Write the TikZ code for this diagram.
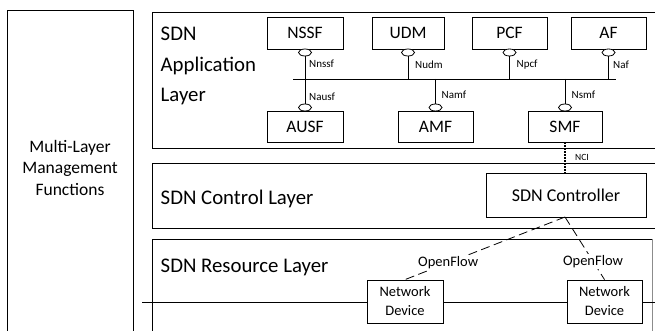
\documentclass[tikz,border=0pt]{standalone}
\usepackage{fontspec}
\setmainfont{Carlito}
\usetikzlibrary{shapes.geometric}
\begin{document}
\begin{tikzpicture}[x=1pt,y=-1pt,
  layer/.style={draw=black,line width=0.8pt},
  fbox/.style={draw=black,line width=0.8pt,fill=white,minimum width=76pt,minimum height=32pt,inner sep=0pt,font=\fontsize{17.5}{20}\selectfont},
  dev/.style={draw=black,line width=0.8pt,fill=white,minimum width=76pt,minimum height=43pt,inner sep=0pt,align=center,font=\fontsize{14.5}{20}\selectfont},
  port/.style={draw=black,line width=0.8pt,fill=white,ellipse,minimum width=13pt,minimum height=7pt,inner sep=0pt},
  iflbl/.style={anchor=west,inner sep=0pt,font=\fontsize{11}{12}\selectfont},
  big/.style={anchor=base west,inner sep=0pt,font=\fontsize{20.8}{24}\selectfont},
  mlf/.style={anchor=base,inner sep=0pt,font=\fontsize{17.5}{21}\selectfont},
  conn/.style={line width=0.8pt},
  ofl/.style={dashed,dash pattern=on 9pt off 4.5pt,line width=0.8pt},
  oftxt/.style={fill=white,inner sep=1.5pt,font=\fontsize{14.5}{16}\selectfont}
]
\useasboundingbox (0,0) rectangle (655,331);
\clip (0,0) rectangle (655,331);
% management box (open at bottom)
\draw[layer] (7,340) -- (7,10) -- (133,10) -- (133,340);
\node[mlf] (m1) at (70,152.7) {Multi-Layer};
\node[mlf] (m2) at (70,173.5) {Management};
\node[mlf] (m3) at (70,195) {Functions};
% layers
\draw[layer] (662,12) -- (152,12) -- (152,148) -- (662,148);
\draw[layer] (662,163) -- (152,163) -- (152,228) -- (662,228);
\draw[layer] (152,340) -- (152,239) -- (652,239);
\draw[line width=0.8pt,draw=black!45] (652,239) -- (652,340);
\node[big] (a1) at (160.5,40.7) {SDN};
\node[big] (a2) at (160.5,72) {Application};
\node[big] (a3) at (160.5,101.7) {Layer};
\node[big] (c1) at (160.5,204) {SDN Control Layer};
\node[big] (r1) at (160.5,272) {SDN Resource Layer};
% bus
\coordinate (busL) at (293,79);
\coordinate (busR) at (616,79);
\draw[conn] (busL) -- (busR);
% NFs top
\node[fbox] (nssf) at (305,33) {NSSF};
\node[fbox,minimum width=72pt] (udm) at (408,33) {UDM};
\node[fbox,minimum width=75pt] (pcf) at (509.5,33) {PCF};
\node[fbox,minimum width=75pt] (af) at (608.5,33) {AF};
\node[fbox,minimum height=31pt] (ausf) at (305,126.5) {AUSF};
\node[fbox,minimum height=31pt,minimum width=75pt] (amf) at (435.5,126.5) {AMF};
\node[fbox,minimum height=31pt,minimum width=74pt] (smf) at (565,126.5) {SMF};
% ports and stems
\foreach \n/\x in {nssf/305,udm/408,pcf/509.5,af/608.5}{
  \node[port] (p\n) at (\x,52.5) {};
  \coordinate (b\n) at (\x,79);
  \draw[conn] (p\n.south) -- (b\n);
}
\foreach \n/\x in {ausf/305,amf/435.5,smf/565}{
  \node[port] (p\n) at (\x,107.5) {};
  \coordinate (b\n) at (\x,79);
  \draw[conn] (b\n) -- (p\n.north);
}
\node[iflbl] (lnssf) at (309,64) {Nnssf};
\node[iflbl] (ludm) at (415,65) {Nudm};
\node[iflbl] (lpcf) at (516.5,65) {Npcf};
\node[iflbl] (laf) at (613,65) {Naf};
\node[iflbl] (lausf) at (309,96.5) {Nausf};
\node[iflbl] (lamf) at (441.5,95) {Namf};
\node[iflbl] (lsmf) at (571.5,95) {Nsmf};
% controller
\node[draw=black,line width=0.8pt,fill=white,minimum width=160pt,minimum height=44pt,inner sep=0pt,font=\fontsize{18}{20}\selectfont] (ctl) at (566,195) {SDN Controller};
\draw[conn,line width=1.2pt,dash pattern=on 1.5pt off 1.5pt] (smf.south) -- (smf.south |- ctl.north);
\node[iflbl,font=\fontsize{9.5}{11}\selectfont] (nci) at (575,157) {NCI};
% resource line and devices
\coordinate (rlL) at (142,302);
\coordinate (rlR) at (662,302);
\draw[conn] (rlL) -- (rlR);
\node[dev] (d1) at (405,301.5) {Network\\[-1pt]Device};
\node[dev,minimum width=75pt] (d2) at (604.5,301.5) {Network\\[-1pt]Device};
\coordinate (cs) at (565,217);
\draw[ofl] (cs) -- node[oftxt,pos=0.73] (of1) {OpenFlow} (d1.north);
\draw[ofl] (cs) -- node[oftxt,pos=0.71] (of2) {OpenFlow} (d2.north);
\end{tikzpicture}
\end{document}
